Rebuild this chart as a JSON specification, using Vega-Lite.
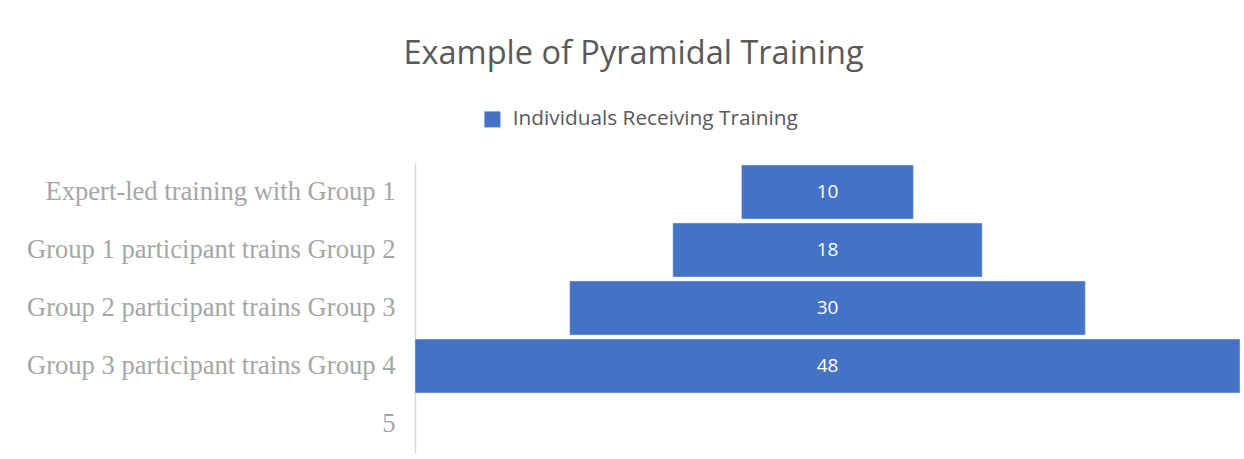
{
  "$schema": "https://vega.github.io/schema/vega-lite/v6.json",
  "autosize": "none",
  "width": 825,
  "height": 290,
  "padding": {"left": 415, "top": 163, "right": 4, "bottom": 6},
  "background": "white",
  "title": {
    "text": "Example of Pyramidal Training",
    "anchor": "middle",
    "frame": "group",
    "dx": -194,
    "font": "Open Sans",
    "fontSize": 32.5,
    "fontWeight": "normal",
    "color": "#595959",
    "offset": 39
  },
  "data": {
    "values": [
      {"stage": "Expert-led training with Group 1", "value": 10},
      {"stage": "Group 1 participant trains Group 2", "value": 18},
      {"stage": "Group 2 participant trains Group 3", "value": 30},
      {"stage": "Group 3 participant trains Group 4", "value": 48},
      {"stage": "5", "value": null}
    ]
  },
  "encoding": {
    "y": {
      "field": "stage",
      "type": "nominal",
      "sort": null,
      "scale": {
        "domain": ["Expert-led training with Group 1", "Group 1 participant trains Group 2", "Group 2 participant trains Group 3", "Group 3 participant trains Group 4", "5"],
        "paddingInner": 0.07,
        "paddingOuter": 0.035
      },
      "axis": {
        "title": null,
        "ticks": false,
        "labelFont": "Liberation Serif",
        "labelFontSize": 26.6,
        "labelColor": "#a6a6a6",
        "labelPadding": 20,
        "labelLimit": 500,
        "domainColor": "#d9d9d9",
        "domainWidth": 1.5
      }
    }
  },
  "layer": [
    {
      "mark": {"type": "bar", "stroke": "#dbe4f4", "strokeWidth": 0.5},
      "encoding": {
        "x": {
          "field": "value",
          "type": "quantitative",
          "stack": "center",
          "scale": {"domain": [0, 48], "nice": false},
          "axis": null
        },
        "color": {
          "datum": "Individuals Receiving Training",
          "scale": {"range": ["#4472C4"]},
          "legend": {
            "title": null,
            "orient": "none",
            "legendX": 67,
            "legendY": -54,
            "padding": 0,
            "symbolType": "square",
            "symbolSize": 256,
            "symbolStrokeWidth": 0,
            "labelFont": "Open Sans",
            "labelFontSize": 20.8,
            "labelLimit": 500,
            "labelColor": "#595959",
            "labelOffset": 10
          }
        }
      }
    },
    {
      "transform": [{"filter": "datum.value != null"}],
      "mark": {"type": "text", "color": "white", "font": "Open Sans", "fontSize": 19, "baseline": "middle", "align": "center"},
      "encoding": {
        "x": {"datum": 24, "type": "quantitative"},
        "text": {"field": "value", "type": "quantitative"}
      }
    }
  ],
  "config": {"view": {"stroke": null}}
}
